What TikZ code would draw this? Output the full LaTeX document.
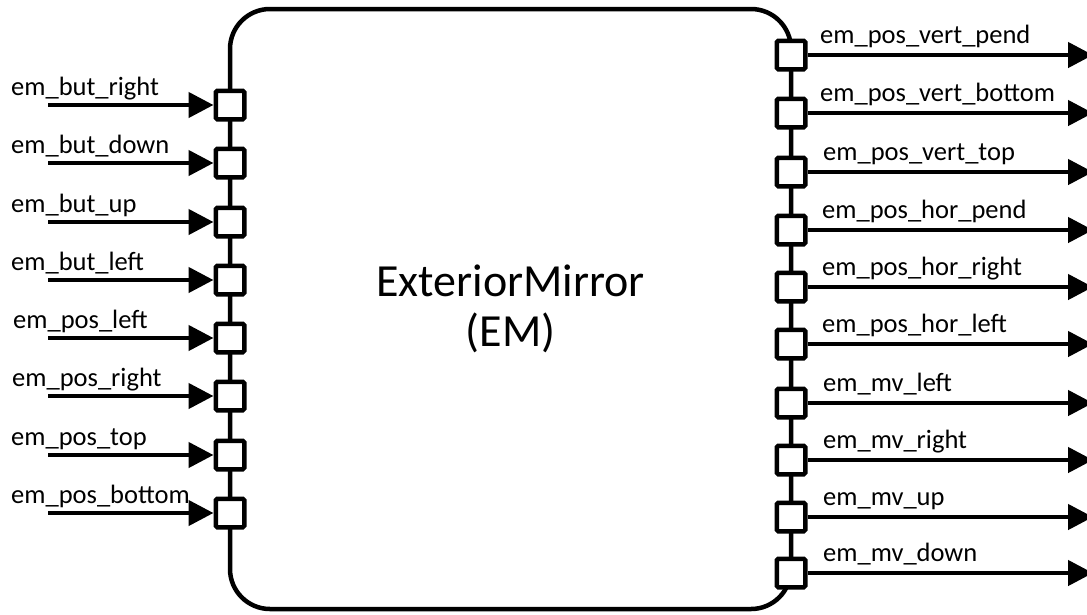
\documentclass[tikz,border=0pt]{standalone}
\usepackage{fontspec}
\setmainfont{Carlito}
\usetikzlibrary{arrows.meta,positioning}

\begin{document}
\begin{tikzpicture}[x=1pt,y=-1pt,
  box/.style={draw,line width=4.5pt,rounded corners=40pt,minimum width=561pt,
    minimum height=600pt,align=center,font=\fontsize{46}{50}\selectfont},
  port/.style={draw,fill=white,line width=4.5pt,rounded corners=1.5pt,
    minimum size=28.5pt,inner sep=0pt},
  lbl/.style={anchor=base west,inner sep=0pt,font=\fontsize{26.5}{30}\selectfont},
  arr/.style={-{Triangle[length=25pt,width=25pt]},line width=4.5pt}]
\useasboundingbox (0,0) rectangle (1087,614);
\node[box] (em) at (510.5,309) {ExteriorMirror\\(EM)};
% inputs
\coordinate (butright-in) at (48,105); \node[port] (butright) at (230,105) {};
\coordinate (butdown-in) at (48,163);  \node[port] (butdown) at (230,163) {};
\coordinate (butup-in) at (48,222);    \node[port] (butup) at (230,222) {};
\coordinate (butleft-in) at (48,280);  \node[port] (butleft) at (230,280) {};
\coordinate (posleft-in) at (48,338);  \node[port] (posleft) at (230,338) {};
\coordinate (posright-in) at (48,396); \node[port] (posright) at (230,396) {};
\coordinate (postop-in) at (48,455);   \node[port] (postop) at (230,455) {};
\coordinate (posbottom-in) at (48,513); \node[port] (posbottom) at (230,513) {};
\node[lbl] (butright-l) at (11,95) {em\_but\_right};
\node[lbl] (butdown-l) at (11,153) {em\_but\_down};
\node[lbl] (butup-l) at (11,212) {em\_but\_up};
\node[lbl] (butleft-l) at (11,270) {em\_but\_left};
\node[lbl] (posleft-l) at (13,328) {em\_pos\_left};
\node[lbl] (posright-l) at (12,386) {em\_pos\_right};
\node[lbl] (postop-l) at (11,445) {em\_pos\_top};
\node[lbl] (posbottom-l) at (11,503) {em\_pos\_bottom};
% outputs
\node[port] (vpend) at (791,55) {};    \coordinate (vpend-out) at (1093,55);
\node[port] (vbottom) at (791,113) {}; \coordinate (vbottom-out) at (1093,113);
\node[port] (vtop) at (791,172) {};    \coordinate (vtop-out) at (1093,172);
\node[port] (hpend) at (791,230) {};   \coordinate (hpend-out) at (1093,230);
\node[port] (hright) at (791,287) {};  \coordinate (hright-out) at (1093,287);
\node[port] (hleft) at (791,344) {};   \coordinate (hleft-out) at (1093,344);
\node[port] (mvleft) at (791,403) {};  \coordinate (mvleft-out) at (1093,403);
\node[port] (mvright) at (791,460) {}; \coordinate (mvright-out) at (1093,460);
\node[port] (mvup) at (791,517) {};    \coordinate (mvup-out) at (1093,517);
\node[port] (mvdown) at (791,573) {};  \coordinate (mvdown-out) at (1093,573);
\node[lbl] (vpend-l) at (820,43) {em\_pos\_vert\_pend};
\node[lbl] (vbottom-l) at (820,101) {em\_pos\_vert\_bottom};
\node[lbl] (vtop-l) at (823,160) {em\_pos\_vert\_top};
\node[lbl] (hpend-l) at (822,218) {em\_pos\_hor\_pend};
\node[lbl] (hright-l) at (822,275) {em\_pos\_hor\_right};
\node[lbl] (hleft-l) at (822,332) {em\_pos\_hor\_left};
\node[lbl] (mvleft-l) at (823,391) {em\_mv\_left};
\node[lbl] (mvright-l) at (823,448) {em\_mv\_right};
\node[lbl] (mvup-l) at (823,505) {em\_mv\_up};
\node[lbl] (mvdown-l) at (823,561) {em\_mv\_down};
\draw[arr] (butright-in)--(butright); \draw[arr] (butdown-in)--(butdown);
\draw[arr] (butup-in)--(butup); \draw[arr] (butleft-in)--(butleft);
\draw[arr] (posleft-in)--(posleft); \draw[arr] (posright-in)--(posright);
\draw[arr] (postop-in)--(postop); \draw[arr] (posbottom-in)--(posbottom);
\draw[arr] (vpend)--(vpend-out); \draw[arr] (vbottom)--(vbottom-out);
\draw[arr] (vtop)--(vtop-out); \draw[arr] (hpend)--(hpend-out);
\draw[arr] (hright)--(hright-out); \draw[arr] (hleft)--(hleft-out);
\draw[arr] (mvleft)--(mvleft-out); \draw[arr] (mvright)--(mvright-out);
\draw[arr] (mvup)--(mvup-out); \draw[arr] (mvdown)--(mvdown-out);
\end{tikzpicture}
\end{document}
